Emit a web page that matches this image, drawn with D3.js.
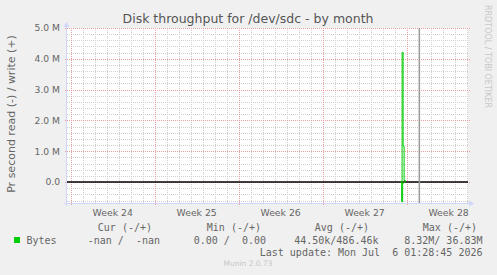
<!DOCTYPE html>
<html lang="en">
<head>
    <meta charset="UTF-8">
    <title>Disk throughput for /dev/sdc - by month</title>
    <script src="https://d3js.org/d3.v7.min.js"></script>
    <style>
        body { margin: 0; background: #f0f0f0; }
        svg { display: block; }
        text { font-family: "DejaVu Sans", sans-serif; fill: #666; }
        .mono { font-family: "DejaVu Sans Mono", monospace; font-size: 10px; white-space: pre; }
    </style>
</head>
<body>
    <div id="chart"></div>
    <script>
        // chart data
        const yTicks = [0, 1e6, 2e6, 3e6, 4e6, 5e6];
        const yTickLabels = ["0.0", "1.0 M", "2.0 M", "3.0 M", "4.0 M", "5.0 M"];
        const weekLabels = ["Week 24", "Week 25", "Week 26", "Week 27", "Week 28"];
        const writeTimes = ["2026-07-05T13:00Z", "2026-07-05T15:00Z", "2026-07-05T17:00Z", "2026-07-05T19:00Z", "2026-07-05T22:00Z"];
        const writeValues = [0, 4.21e6, 1.17e6, 0.05e6, 0];
        const readTimes = ["2026-07-05T12:00Z", "2026-07-05T14:00Z", "2026-07-05T16:00Z", "2026-07-05T19:00Z"];
        const readValues = [0, -0.64e6, -0.03e6, 0];
        const nowRule = "2026-07-07T01:28:45Z";
        const legendHeaders = ["Cur (-/+)", "Min (-/+)", "Avg (-/+)", "Max (-/+)"];
        const legendValues = ["-nan /  -nan", "0.00 /  0.00", "44.50k/486.46k", "8.32M/ 36.83M"];

        const W = 497, H = 275;
        const pLeft = 67, pRight = 468, pTop = 28, pBottom = 203;

        const svg = d3.select('#chart').append('svg')
            .attr('width', W)
            .attr('height', H);

        svg.append('rect').attr('width', W).attr('height', H).attr('fill', '#f0f0f0');

        const x = d3.scaleUtc()
            .domain([new Date("2026-06-07T16:36Z"), new Date("2026-07-11T02:48Z")])
            .range([pLeft, pRight]);
        const y = d3.scaleLinear()
            .domain([-0.68e6, 5e6])
            .range([pBottom, pTop]);

        // canvas
        svg.append('rect')
            .attr('x', pLeft).attr('y', pTop)
            .attr('width', pRight - pLeft).attr('height', pBottom - pTop)
            .attr('fill', '#fff');

        const grid = svg.append('g').attr('shape-rendering', 'crispEdges');

        // minor grid
        const days = d3.utcDay.range(x.domain()[0], x.domain()[1]).filter(d => d.getUTCDay() !== 1);
        grid.selectAll('.vmin').data(days).enter().append('line')
            .attr('x1', d => Math.round(x(d)) + 0.5).attr('x2', d => Math.round(x(d)) + 0.5)
            .attr('y1', pTop).attr('y2', pBottom)
            .attr('stroke', '#cfcfcf').attr('stroke-dasharray', '1,1');
        const hMinor = d3.range(-3, 25).filter(i => i % 5 !== 0).map(i => i * 0.2e6);
        grid.selectAll('.hmin').data(hMinor).enter().append('line')
            .attr('x1', pLeft).attr('x2', pRight)
            .attr('y1', d => Math.round(y(d)) + 0.5).attr('y2', d => Math.round(y(d)) + 0.5)
            .attr('stroke', '#cfcfcf').attr('stroke-dasharray', '1,1');

        // major grid
        const mondays = d3.utcMonday.range(x.domain()[0], x.domain()[1]);
        grid.selectAll('.vmaj').data(mondays).enter().append('line')
            .attr('x1', d => Math.round(x(d)) + 0.5).attr('x2', d => Math.round(x(d)) + 0.5)
            .attr('y1', pTop).attr('y2', pBottom + 3)
            .attr('stroke', '#eaa0a0').attr('stroke-dasharray', '1,1');
        grid.selectAll('.hmaj').data(yTicks).enter().append('line')
            .attr('x1', pLeft - 2).attr('x2', pRight + 2)
            .attr('y1', d => Math.round(y(d)) + 0.5).attr('y2', d => Math.round(y(d)) + 0.5)
            .attr('stroke', '#eaa0a0').attr('stroke-dasharray', '1,1');

        // tick labels
        svg.selectAll('.ylab').data(yTicks).enter().append('text')
            .attr('x', 60).attr('y', d => y(d) + 3.4)
            .attr('text-anchor', 'end')
            .style('font-size', '9.2px')
            .text((d, i) => yTickLabels[i]);
        svg.selectAll('.xlab').data(mondays).enter().append('text')
            .attr('x', d => x(d3.utcHour.offset(d, 84)))
            .attr('y', 216)
            .attr('text-anchor', 'middle')
            .style('font-size', '9.3px')
            .text((d, i) => weekLabels[i]);

        // zero line
        svg.append('line')
            .attr('x1', pLeft).attr('x2', pRight)
            .attr('y1', y(0)).attr('y2', y(0))
            .attr('stroke', '#000').attr('stroke-width', 1.5);

        // data lines
        const line = d3.line()
            .x(d => x(new Date(d[0])))
            .y(d => y(d[1]))
            .curve(d3.curveStepAfter);
        svg.append('path')
            .datum(readTimes.map((t, i) => [t, readValues[i]]))
            .attr('d', line)
            .attr('fill', 'none').attr('stroke', '#00cc00').attr('stroke-width', 1);
        svg.append('path')
            .datum(writeTimes.map((t, i) => [t, writeValues[i]]))
            .attr('d', line)
            .attr('fill', 'none').attr('stroke', '#00cc00').attr('stroke-width', 1);

        // now rule
        svg.append('line')
            .attr('x1', x(new Date(nowRule))).attr('x2', x(new Date(nowRule)))
            .attr('y1', pTop).attr('y2', pBottom)
            .attr('stroke', '#999').attr('stroke-width', 1.5);

        // axes + arrows
        svg.append('line')
            .attr('x1', pLeft - 0.5).attr('x2', pLeft - 0.5)
            .attr('y1', pTop - 2).attr('y2', pBottom + 3)
            .attr('stroke', '#cfd6f8');
        svg.append('line')
            .attr('x1', pLeft - 3).attr('x2', pRight + 1)
            .attr('y1', pBottom + 0.5).attr('y2', pBottom + 0.5)
            .attr('stroke', '#cfd6f8');
        svg.append('path')
            .attr('d', `M${pLeft - 3.5},${pTop - 1}L${pLeft - 0.5},${pTop - 6}L${pLeft + 2.5},${pTop - 1}Z`)
            .attr('fill', '#cfd6f8');
        svg.append('path')
            .attr('d', `M${pRight + 1},${pBottom - 2.5}L${pRight + 6},${pBottom + 0.5}L${pRight + 1},${pBottom + 3.5}Z`)
            .attr('fill', '#cfd6f8');

        // title and side texts
        svg.append('text')
            .attr('x', 248).attr('y', 22.5)
            .attr('text-anchor', 'middle')
            .style('font-size', '12.5px')
            .style('fill', '#555')
            .text('Disk throughput for /dev/sdc - by month');
        svg.append('text')
            .attr('transform', 'translate(14.5,114) rotate(-90)')
            .attr('text-anchor', 'middle')
            .style('font-size', '11px')
            .text('Pr second read (-) / write (+)');
        svg.append('text')
            .attr('transform', 'translate(485,5) rotate(90)')
            .style('font-size', '8px')
            .style('fill', '#c8c8c8')
            .text('RRDTOOL / TOBI OETIKER');
        svg.append('text')
            .attr('x', 248).attr('y', 266)
            .attr('text-anchor', 'middle')
            .style('font-size', '7.5px')
            .style('fill', '#c8c8c8')
            .text('Munin 2.0.73');

        // legend
        const headerEnds = [152, 261, 369, 477];
        const valueEnds = [160, 266, 378.5, 482.5];
        svg.selectAll('.lh').data(legendHeaders).enter().append('text')
            .attr('class', 'mono')
            .attr('x', (d, i) => headerEnds[i]).attr('y', 231)
            .attr('text-anchor', 'end')
            .text(d => d);
        svg.append('rect')
            .attr('x', 14).attr('y', 237).attr('width', 6).attr('height', 6)
            .attr('fill', '#00cc00');
        svg.append('text').attr('class', 'mono')
            .attr('x', 26.5).attr('y', 243.5)
            .text('Bytes');
        svg.selectAll('.lv').data(legendValues).enter().append('text')
            .attr('class', 'mono')
            .attr('x', (d, i) => valueEnds[i]).attr('y', 243.5)
            .attr('text-anchor', 'end')
            .text(d => d);
        svg.append('text').attr('class', 'mono')
            .attr('x', 482.5).attr('y', 255.5)
            .attr('text-anchor', 'end')
            .text('Last update: Mon Jul  6 01:28:45 2026');
    </script>
</body>
</html>
